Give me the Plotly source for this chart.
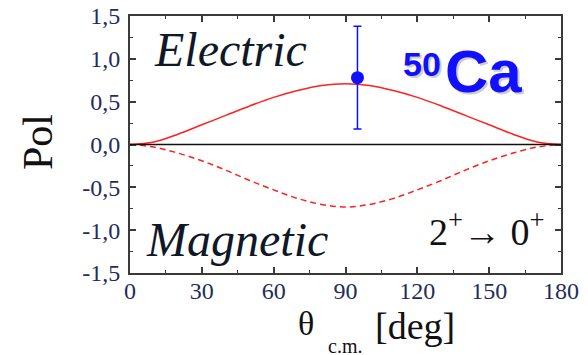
import plotly.graph_objects as go

# ---- data ----
theta_deg = [0, 10, 20, 30, 40, 50, 60, 70, 80, 90, 100, 110, 120, 130, 140, 150, 160, 170, 180]
pol_electric = [0.0, 0.03, 0.12, 0.23, 0.34, 0.45, 0.55, 0.63, 0.69, 0.71,
                0.69, 0.63, 0.55, 0.45, 0.34, 0.23, 0.12, 0.03, 0.0]
pol_magnetic = [0.0, -0.03, -0.10, -0.19, -0.30, -0.42, -0.53, -0.63, -0.70, -0.73,
                -0.70, -0.63, -0.53, -0.42, -0.30, -0.19, -0.10, -0.03, 0.0]

meas_theta = [95]
meas_pol = [0.78]
meas_err = [0.60]

x_ticks = [0, 30, 60, 90, 120, 150, 180]
y_ticks = [-1.5, -1.0, -0.5, 0.0, 0.5, 1.0, 1.5]
y_ticktext = ["-1,5", "-1,0", "-0,5", "0,0", "0,5", "1,0", "1,5"]

# ---- layout geometry ----
# The page body has an 8px margin, so the figure is drawn 8px in from the
# window's top-left corner; geometry below is given in window pixels.
OFF = 8
WIN_W, WIN_H = 588, 355
W, H = WIN_W - OFF, WIN_H - OFF
PLOT_L, PLOT_R, PLOT_T, PLOT_B = 130, 561, 16, 273   # window pixels
L = PLOT_L - OFF
T = PLOT_T - OFF
R = W - (PLOT_R - OFF)
B = H - (PLOT_B - OFF)
PW, PH = PLOT_R - PLOT_L, PLOT_B - PLOT_T


def px(x):
    return (x - PLOT_L) / PW


def py(y):
    return (PLOT_B - y) / PH


SERIF = "Liberation Serif, Times New Roman, serif"
SANS = "Liberation Sans, Arial, sans-serif"
TICKCOL = "#1f2d5c"
AXCOL = "#3a3a3a"

fig = go.Figure()

fig.add_trace(go.Scatter(x=theta_deg, y=pol_electric, mode="lines",
                         line=dict(color="#ff2020", width=1.5, shape="spline"),
                         showlegend=False, hoverinfo="skip"))
fig.add_trace(go.Scatter(x=theta_deg, y=pol_magnetic, mode="lines",
                         line=dict(color="#ff2020", width=1.5, shape="spline", dash="6px,4px"),
                         showlegend=False, hoverinfo="skip"))
fig.add_trace(go.Scatter(x=meas_theta, y=meas_pol, mode="markers",
                         marker=dict(color="#1010ff", size=13),
                         error_y=dict(type="data", array=meas_err, color="#1010ff",
                                      thickness=1.5, width=4),
                         showlegend=False, hoverinfo="skip"))

axis_common = dict(showline=True, linecolor=AXCOL, linewidth=2, mirror="ticks",
                   ticks="inside", ticklen=6, tickwidth=1.5, tickcolor=AXCOL,
                   showgrid=False, zeroline=False, automargin=False,
                   ticklabeloverflow="allow",
                   tickfont=dict(family=SERIF, size=24, color=TICKCOL))

fig.update_xaxes(range=[0, 180], tickvals=x_ticks,
                 minor=dict(ticks="inside", ticklen=3, tickwidth=1.2, tickcolor=AXCOL, dtick=15, showgrid=False),
                 ticklabelstandoff=-5, **axis_common)
fig.update_yaxes(range=[-1.5, 1.5], tickvals=y_ticks, ticktext=y_ticktext,
                 minor=dict(ticks="inside", ticklen=3, tickwidth=1.2, tickcolor=AXCOL, dtick=0.25, showgrid=False),
                 ticklabelstandoff=3, **axis_common)

# zero line
fig.add_hline(y=0, line=dict(color="#111111", width=1.5))


def note(text, x, y, size, color="#111111", family=SERIF, angle=0, weight="normal"):
    return dict(text=text, x=px(x), y=py(y), xref="paper", yref="paper",
                showarrow=False, xanchor="center", yanchor="middle", textangle=angle,
                font=dict(family=family, size=size, color=color, weight=weight))


ann = [
    note("<i>Electric</i>", 230, 49, 48, color="#101828"),
    note("<i>Magnetic</i>", 237, 239, 48, color="#101828"),
    note("2<sup>+</sup>\u2192 0<sup>+</sup>", 487, 229, 38),
    # shadow copies then main label
    note("50", 424, 66, 34, color="rgba(110,110,110,0.35)", family=SANS, weight="bold"),
    note("Ca", 485, 73, 60, color="rgba(110,110,110,0.35)", family=SANS, weight="bold"),
    note("50", 422, 64, 34, color="#1010ff", family=SANS, weight="bold"),
    note("Ca", 483, 71, 60, color="#1010ff", family=SANS, weight="bold"),
    note("Pol", 38, 142, 42, angle=-90),
    note("\u03b8", 306, 323, 34),
    note("c.m.", 345, 346, 20),
    note("[deg]", 415, 326, 38),
]

fig.update_layout(width=W, height=H, margin=dict(l=L, r=R, t=T, b=B, autoexpand=False),
                  paper_bgcolor="white", plot_bgcolor="white",
                  annotations=ann)

fig.write_html("out.html")
